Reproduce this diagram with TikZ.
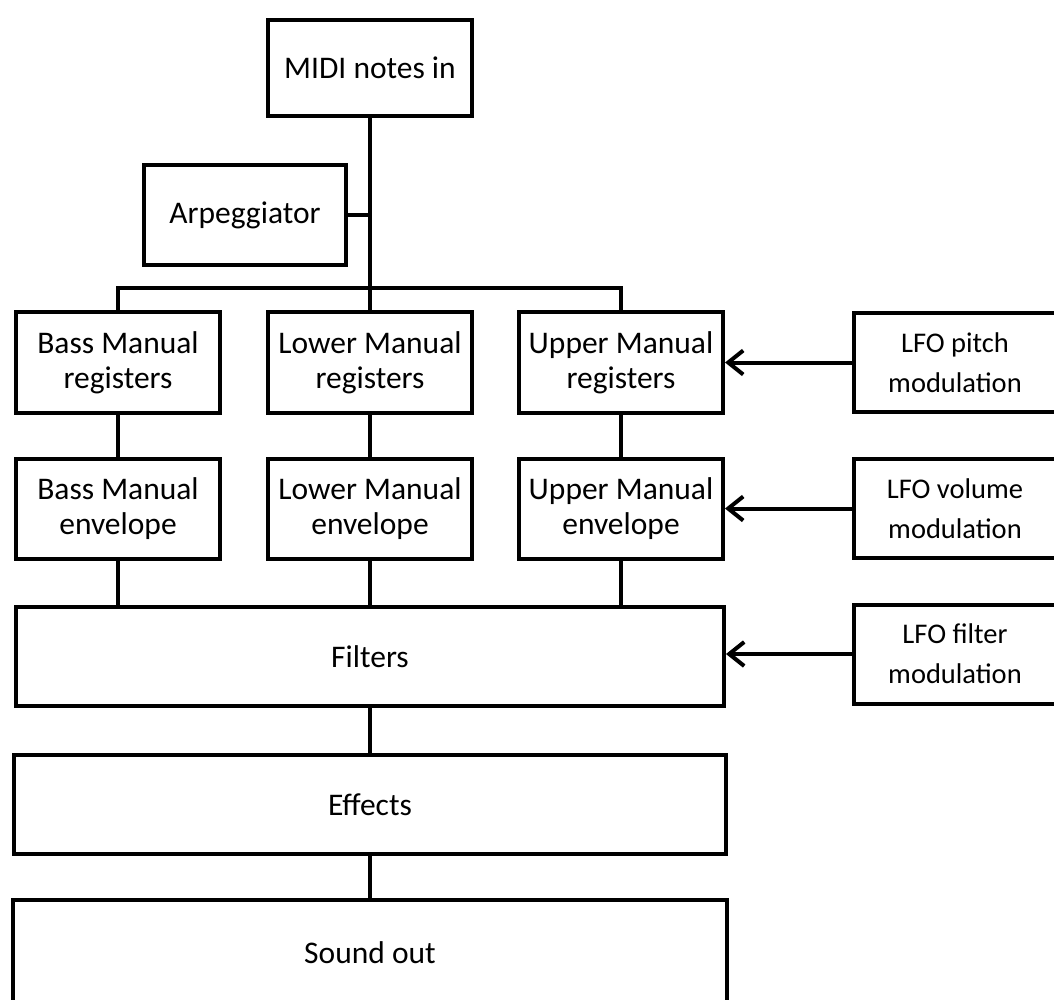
\documentclass[tikz,border=0pt]{standalone}
\usepackage{fontspec}
\setmainfont{Carlito}
\usetikzlibrary{arrows.meta}

\newcommand\boxfont{\fontsize{31.5}{35}\selectfont}
\newcommand\lfofont{\fontsize{28.5}{40}\selectfont}

\begin{document}
\begin{tikzpicture}[>={Straight Barb[length=15pt,width=24pt]}, line width=4pt,
  block/.style={draw, line width=4pt, inner sep=0pt, align=center, font=\boxfont, minimum width=204pt, minimum height=101pt},
  wide/.style={block, minimum height=99pt},
  lfo/.style={block, font=\lfofont, minimum width=202pt, minimum height=99pt}]
  \useasboundingbox (0pt, 0pt) rectangle (1054pt, -999pt);
  \clip (0pt, 0pt) rectangle (1054pt, -999pt);
  \draw (370.0pt, -68.0pt)node[block, minimum height=96pt](midi){MIDI notes in};
  \draw (245.0pt, -215.0pt)node[block, minimum width=202pt, minimum height=100pt](arp){Arpeggiator};
  \draw (118.0pt, -362.5pt)node[block](bassreg){Bass Manual\\registers};
  \draw (370.0pt, -362.5pt)node[block](lowreg){Lower Manual\\registers};
  \draw (621.0pt, -362.5pt)node[block](upreg){Upper Manual\\registers};
  \draw (118.0pt, -509.0pt)node[block, minimum height=100pt](bassenv){Bass Manual\\envelope};
  \draw (370.0pt, -509.0pt)node[block, minimum height=100pt](lowenv){Lower Manual\\envelope};
  \draw (621.0pt, -509.0pt)node[block, minimum height=100pt](upenv){Upper Manual\\envelope};
  \draw (955.0pt, -362.5pt)node[lfo](lfopitch){LFO pitch\\modulation};
  \draw (955.0pt, -508.5pt)node[lfo](lfovol){LFO volume\\modulation};
  \draw (955.0pt, -654.0pt)node[lfo](lfofilt){LFO filter\\modulation};
  \draw (370.0pt, -656.5pt)node[wide, minimum width=708pt](filters){Filters};
  \draw (370.0pt, -804.5pt)node[wide, minimum width=712pt](effects){Effects};
  \draw (370.0pt, -953.0pt)node[wide, minimum width=714pt, minimum height=106pt](sound){Sound out};
  \coordinate (bus) at (370.0pt, -288.0pt);
  \draw (midi.south) -- (bus);
  \draw (arp.east) -- (arp.east -| midi.south);
  \draw (bassreg.north) |- (bus) -| (upreg.north);
  \draw (bus) -- (lowreg.north);
  \draw (bassreg) -- (bassenv);
  \draw (lowreg) -- (lowenv);
  \draw (upreg) -- (upenv);
  \draw (bassenv.south) -- (bassenv.south |- filters.north);
  \draw (lowenv.south) -- (lowenv.south |- filters.north);
  \draw (upenv.south) -- (upenv.south |- filters.north);
  \draw (filters) -- (effects);
  \draw (effects) -- (sound);
  \path[->] (lfopitch.west) edge (lfopitch.west -| upreg.east);
  \path[->] (lfovol.west) edge (lfovol.west -| upenv.east);
  \path[->] (lfofilt.west) edge (lfofilt.west -| filters.east);
\end{tikzpicture}
\end{document}
